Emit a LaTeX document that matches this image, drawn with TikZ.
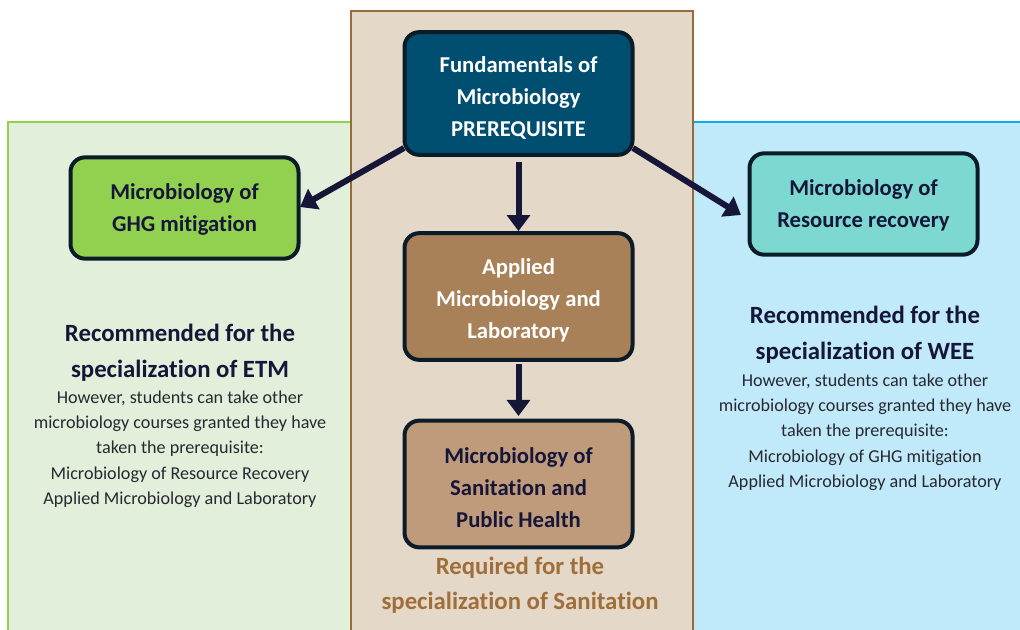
\documentclass[tikz,border=0pt]{standalone}
\usepackage{fontspec}
\setmainfont{Carlito}[Ligatures=NoCommon]
\usetikzlibrary{arrows.meta}
\definecolor{greenbg}{RGB}{226,239,218}
\definecolor{greenln}{RGB}{146,208,80}
\definecolor{tanbg}{RGB}{228,216,201}
\definecolor{tanln}{RGB}{152,108,58}
\definecolor{bluebg}{RGB}{192,233,249}
\definecolor{blueln}{RGB}{0,176,240}
\definecolor{navy}{RGB}{22,22,56}
\definecolor{boxln}{RGB}{10,28,40}
\definecolor{fundfill}{RGB}{0,78,112}
\definecolor{ghgfill}{RGB}{146,208,80}
\definecolor{resfill}{RGB}{124,216,208}
\definecolor{appfill}{RGB}{169,129,88}
\definecolor{sanfill}{RGB}{192,155,123}
\definecolor{bodytxt}{RGB}{40,40,50}
\definecolor{reqtxt}{RGB}{160,110,58}
\newcommand{\topstrut}{\rule{0pt}{18pt}}
\newcommand{\midstrut}{\rule{0pt}{14.5pt}}
\tikzset{
  panel/.style={line width=1.2pt},
  course/.style={draw=boxln, line width=3pt, rounded corners=11pt, minimum width=171pt, align=center, font=\fontsize{17}{24}\selectfont\bfseries, inner sep=0pt},
  link/.style={draw=navy, line width=4.5pt, -{Triangle[length=12pt,width=17pt]}},
  head/.style={align=center, text=navy, font=\fontsize{18.6}{27}\selectfont\bfseries},
  body/.style={align=center, text=bodytxt, font=\fontsize{13.6}{19}\selectfont},
}
\begin{document}
\begin{tikzpicture}[x=0.75pt,y=-0.75pt]
\useasboundingbox (0,0) rectangle (1020,630);
\fill[white] (0,0) rectangle (1020,630);
\draw[panel, fill=greenbg, draw=greenln] (8,122) rectangle (352,640);
\draw[panel, fill=bluebg, draw=blueln] (693,122) rectangle (1030,640);
\draw[panel, fill=tanbg, draw=tanln] (351,11) rectangle (693,640);

\node[course, fill=fundfill, text=white, minimum height=92pt] (fund) at (518.5,93.5) {\topstrut Fundamentals of\\Microbiology\\PREREQUISITE};
\node[course, fill=ghgfill, text=navy, minimum height=76pt] (ghg) at (184.5,208) {\midstrut Microbiology of\\GHG mitigation};
\node[course, fill=resfill, text=navy, minimum height=76pt] (res) at (863.5,204) {\midstrut Microbiology of\\Resource recovery};
\node[course, fill=appfill, text=white, minimum height=95pt] (app) at (518.5,296.5) {\topstrut Applied\\Microbiology and\\Laboratory};
\node[course, fill=sanfill, text=navy, minimum height=95pt] (san) at (518.5,484) {\topstrut Microbiology of\\Sanitation and\\Public Health};

\coordinate (f1) at (404,148);
\coordinate (f2) at (633,148);
\coordinate (g1) at (300,207);
\coordinate (r1) at (741,215);
\draw[link] (f1) -- (g1);
\draw[link] (f2) -- (r1);
\draw[link] (fund.south) ++(0,5) -- (app.north);
\draw[link] (app.south) ++(0,2) -- ([yshift=2pt]san.north);

\node[head] (etmh) at (180,353) {Recommended for the\\specialization of ETM};
\node[body] (etmb) at (180,449) {However, students can take other\\microbiology courses granted they have\\taken the prerequisite:\\Microbiology of Resource Recovery\\Applied Microbiology and Laboratory};
\node[head] (weeh) at (865,335) {Recommended for the\\specialization of WEE};
\node[body] (weeb) at (865,432) {However, students can take other\\microbiology courses granted they have\\taken the prerequisite:\\Microbiology of GHG mitigation\\Applied Microbiology and Laboratory};
\node[head, text=reqtxt, font=\fontsize{18.6}{26}\selectfont\bfseries] (req) at (520,585) {Required for the\\specialization of Sanitation};
\end{tikzpicture}
\end{document}
